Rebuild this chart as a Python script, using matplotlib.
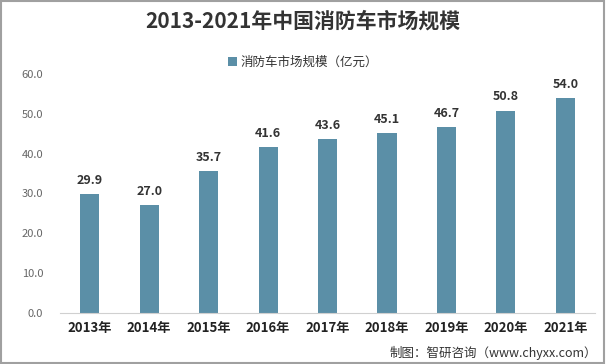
import matplotlib
matplotlib.use("Agg")
import matplotlib.pyplot as plt
from matplotlib.patches import Rectangle

plt.rcParams['font.family'] = ['Noto Sans CJK SC', 'DejaVu Sans']

years = ["2013年", "2014年", "2015年", "2016年", "2017年", "2018年", "2019年", "2020年", "2021年"]
values = [29.9, 27.0, 35.7, 41.6, 43.6, 45.1, 46.7, 50.8, 54.0]
yticks = [0, 10, 20, 30, 40, 50, 60]
title = "2013-2021年中国消防车市场规模"
legend_label = "消防车市场规模（亿元）"
source = "制图：智研咨询（www.chyxx.com）"

fig = plt.figure(figsize=(6.06, 3.64), dpi=100)
ax = fig.add_axes([0.099, 0.140, 0.883, 0.657])
color = "#5b8fa7"
x = list(range(len(years)))
bars = ax.bar(x, values, width=0.32, color=color, label=legend_label, zorder=2)
for xi, v in zip(x, values):
    ax.text(xi, v + 1.8, f"{v:.1f}", ha="center", va="bottom", fontsize=9,
            fontweight="bold", color="#333333")
ax.set_xlim(-0.5, len(years) - 0.5)
ax.set_ylim(0, 60)
ax.set_yticks(yticks)
ax.set_yticklabels([f"{t:.1f}" for t in yticks], fontsize=8, color="#666666")
ax.set_xticks(x)
ax.set_xticklabels(years, fontsize=9.5, fontweight="bold", color="#222222")
for s in ["top", "right", "left"]:
    ax.spines[s].set_visible(False)
ax.spines["bottom"].set_color("#d0d0d0")
ax.tick_params(axis="both", length=0)
ax.tick_params(axis="x", pad=6)
ax.tick_params(axis="y", pad=12)

fig.text(0.5, 0.943, title, ha="center", va="center", fontsize=15, fontweight="bold", color="#333333")
leg = fig.legend(handles=[bars], labels=[legend_label], loc="center", bbox_to_anchor=(0.5, 0.828),
                 frameon=False, fontsize=9, handlelength=0.7, handleheight=0.7, handletextpad=0.3)
for t in leg.get_texts():
    t.set_color("#333333")
fig.text(0.985, 0.03, source, ha="right", va="center", fontsize=9, color="#333333")
fig.patches.append(Rectangle((0.002, 0.003), 0.995, 0.993, transform=fig.transFigure,
                             fill=False, edgecolor="#a0a0a0", linewidth=1.5))
fig.savefig("out.png", dpi=100)
